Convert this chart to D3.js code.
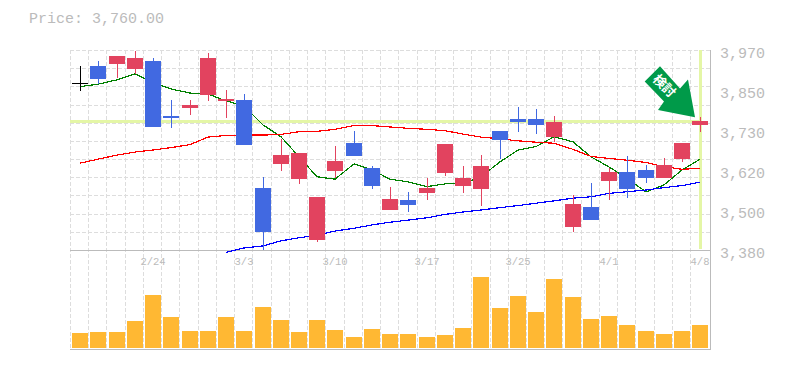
<!DOCTYPE html>
<html>
<head>
<meta charset="utf-8">
<script src="https://cdn.jsdelivr.net/npm/d3@7"></script>
<style>
  html, body { margin: 0; padding: 0; background: #fff; }
  svg { display: block; }
  text { font-family: "Liberation Mono", "DejaVu Sans Mono", monospace; fill: #bbb; }
</style>
</head>
<body>
<div id="chart"></div>
<script>
// daily prices
const open  = [3872,3923,3929,3914,3938,3775,3799,3837,3820,3823,3563,3634,3589,3409,3613,3696,3622,3498,3527,3548,3607,3569,3560,3731,3766,3766,3713,3448,3507,3584,3610,3616,3592,3648,3749];
const close = [3872,3884,3952,3946,3743,3769,3808,3946,3825,3691,3433,3660,3666,3536,3643,3657,3569,3530,3513,3563,3693,3592,3628,3704,3758,3749,3758,3516,3468,3610,3560,3592,3631,3696,3761];
const high  = [3923,3938,3952,3967,3946,3823,3823,3961,3852,3840,3595,3707,3666,3536,3687,3731,3628,3566,3551,3592,3693,3628,3660,3731,3802,3796,3775,3542,3578,3622,3657,3631,3651,3696,3772];
const low   = [3850,3869,3887,3900,3743,3740,3778,3820,3769,3691,3380,3613,3575,3404,3592,3657,3560,3498,3492,3527,3598,3548,3510,3648,3728,3722,3699,3433,3468,3527,3533,3578,3592,3640,3728];
const volume = [15,16,16,27,53,31,17,17,31,17,41,28,16,28,18,11,19,14,14,11,13,20,71,40,52,36,69,51,29,32,23,17,14,17,23];

// moving averages
const maShort = [3862,3869,3882,3900,3873,3855,3843,3840,3820,3805,3749,3714,3655,3596,3589,3634,3616,3589,3581,3567,3575,3575,3596,3640,3675,3685,3714,3699,3655,3625,3592,3551,3572,3616,3648];
const maMid   = [3636,3648,3660,3669,3675,3682,3691,3713,3718,3719,3719,3721,3729,3730,3736,3747,3747,3743,3739,3736,3732,3722,3713,3708,3702,3698,3695,3677,3656,3650,3645,3638,3626,3618,3621];
const maLong  = [null,null,null,null,null,null,null,null,3373,3386,3392,3407,3416,3424,3436,3444,3454,3462,3468,3475,3485,3492,3498,3505,3511,3518,3525,3533,3537,3547,3552,3557,3564,3570,3580];

const priceTicks = [3970,3850,3730,3620,3500,3380];
const tickPrices = [3970,3852,3734,3616,3498,3380];
const dateLabels = [[4,"2/24"],[9,"3/3"],[14,"3/10"],[19,"3/17"],[24,"3/25"],[29,"4/1"],[34,"4/8"]];
const lastPrice = 3760;

const width = 785, height = 370;
const RED = "#e2435f", BLUE = "#4169e1", GRID = "#ddd", AXIS = "#bbb", MARK = "#e4f6a6";

const svg = d3.select("#chart").append("svg")
    .attr("width", width)
    .attr("height", height);

// scales
const x = d3.scaleBand()
    .domain(d3.range(open.length))
    .range([71, 709.4]);
const cx = i => Math.round(x(i) + x.bandwidth() / 2);

const y = d3.scaleLinear()
    .domain([3380, 3970])
    .range([250, 50]);

const yVol = d3.scaleLinear()
    .domain([0, 98])
    .range([348, 250]);

// grid
const grid = svg.append("g")
    .attr("stroke", GRID)
    .attr("stroke-dasharray", "4,2")
    .attr("shape-rendering", "crispEdges");

d3.range(12).forEach(k => {
    const gy = Math.round(50 + k * 200 / 11);
    grid.append("line").attr("x1", 70).attr("x2", 710).attr("y1", gy).attr("y2", gy);
});
d3.range(35).forEach(k => {
    const gx = Math.round(x(k)) - 0.5;
    grid.append("line").attr("x1", gx).attr("x2", gx).attr("y1", 50).attr("y2", 350);
});

// axis lines
svg.append("path")
    .attr("d", "M70,250.5H710M70,349.5H710.5V50")
    .attr("fill", "none")
    .attr("stroke", AXIS)
    .attr("stroke-width", 1.2)
    .attr("shape-rendering", "crispEdges");

// last price highlight
svg.append("line")
    .attr("x1", 70).attr("x2", 700)
    .attr("y1", y(lastPrice)).attr("y2", y(lastPrice))
    .attr("stroke", MARK).attr("stroke-width", 3)
    .attr("shape-rendering", "crispEdges");
svg.append("line")
    .attr("x1", cx(34)).attr("x2", cx(34))
    .attr("y1", 50).attr("y2", 249)
    .attr("stroke", MARK).attr("stroke-width", 3)
    .attr("shape-rendering", "crispEdges");

// moving average lines
const line = d3.line()
    .defined(d => d !== null)
    .x((d, i) => cx(i))
    .y(d => y(d));

[[maShort, "#008000"], [maMid, "#ff0000"], [maLong, "#0000ff"]].forEach(([vals, color]) => {
    svg.append("path")
        .datum(vals)
        .attr("fill", "none")
        .attr("stroke", color)
        .attr("stroke-width", 1.2)
        .attr("shape-rendering", "crispEdges")
        .attr("d", line);
});

// candles
const candle = svg.append("g")
    .attr("shape-rendering", "crispEdges")
    .selectAll("g")
    .data(open.map((o, i) => ({i, o, c: close[i], h: high[i], l: low[i]})))
    .join("g")
    .attr("fill", d => d.c > d.o ? RED : d.c < d.o ? BLUE : "#000")
    .attr("stroke", d => d.c > d.o ? RED : d.c < d.o ? BLUE : "#000");

candle.append("line")
    .attr("x1", d => cx(d.i)).attr("x2", d => cx(d.i))
    .attr("y1", d => y(d.h)).attr("y2", d => y(d.l))
    .attr("stroke-width", 1);

candle.append("rect")
    .attr("x", d => cx(d.i) - 8)
    .attr("width", 16)
    .attr("y", d => y(Math.max(d.o, d.c)))
    .attr("height", d => Math.max(1, Math.abs(y(d.o) - y(d.c))))
    .attr("stroke", "none");

// volume bars
svg.append("g")
    .attr("shape-rendering", "crispEdges")
    .selectAll("rect")
    .data(volume)
    .join("rect")
    .attr("x", (d, i) => cx(i) - 8)
    .attr("width", 16)
    .attr("y", d => yVol(d))
    .attr("height", d => yVol(0) - yVol(d))
    .attr("fill", "#ffb833");

// labels
svg.append("text")
    .attr("x", 29).attr("y", 23)
    .attr("font-size", 15)
    .text("Price: " + d3.format(",.2f")(lastPrice));

svg.append("g")
    .selectAll("text")
    .data(priceTicks)
    .join("text")
    .attr("x", 720)
    .attr("y", (d, i) => y(tickPrices[i]) + 8)
    .attr("font-size", 15)
    .text(d => d3.format(",")(d));

svg.append("g")
    .selectAll("text")
    .data(dateLabels)
    .join("text")
    .attr("x", d => cx(d[0]))
    .attr("y", 265)
    .attr("text-anchor", "middle")
    .attr("font-size", 10.5)
    .text(d => d[1]);

// arrow, anchored to the last candle
const arrow = svg.append("g")
    .attr("transform", `translate(${cx(34) - 5},${y(lastPrice) - 4})`);

arrow.append("path")
    .attr("d", "M-35,-51L-50.3,-35.7L-31,-15.7L-37,-7.3L0,0L-7,-37.7L-15,-28.7Z")
    .attr("fill", "#009a49");

arrow.append("text")
    .attr("transform", "translate(-30,-32) rotate(45)")
    .attr("text-anchor", "middle")
    .attr("dominant-baseline", "central")
    .attr("font-size", 13)
    .attr("font-weight", "bold")
    .style("font-family", '"Noto Sans CJK JP"')
    .style("fill", "#fff")
    .text("検討");
</script>
</body>
</html>
